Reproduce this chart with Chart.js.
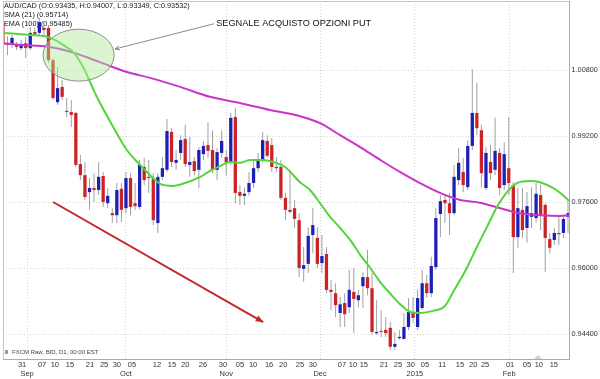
<!DOCTYPE html>
<html>
<head>
<meta charset="utf-8">
<script src="https://cdn.jsdelivr.net/npm/chart.js@4.4.1/dist/chart.umd.min.js"></script>
<style>
  html, body { margin: 0; padding: 0; background: #fff; }
  #wrap { width: 600px; height: 379px; }
</style>
</head>
<body>
<div id="wrap"><canvas id="myChart"></canvas></div>
<script>
// daily candles, AUD/CAD, one entry per trading day
const opens = [
  1.0194, 1.0145, 1.0141, 1.0141, 1.0133, 1.0145, 1.0133, 1.0172, 1.0170, 1.0182,
  1.0182, 1.0104, 1.0002, 1.0039, 0.9981, 0.9978, 0.9976, 0.9852, 0.9825, 0.9784,
  0.9794, 0.9789, 0.9823, 0.9757, 0.9733, 0.9728, 0.9792, 0.9745, 0.9818, 0.9757,
  0.9748, 0.9845, 0.9821, 0.9818, 0.9709, 0.9821, 0.9838, 0.9930, 0.9855, 0.9879,
  0.9913, 0.9850, 0.9859, 0.9838, 0.9876, 0.9898, 0.9886, 0.9838, 0.9879, 0.9869,
  0.9857, 0.9966, 0.9784, 0.9775, 0.9784, 0.9806, 0.9842, 0.9862, 0.9908, 0.9898,
  0.9845, 0.9845, 0.9770, 0.9741, 0.9745, 0.9716, 0.9598, 0.9610, 0.9680, 0.9673,
  0.9612, 0.9634, 0.9547, 0.9539, 0.9491, 0.9515, 0.9505, 0.9542, 0.9522, 0.9556,
  0.9578, 0.9551, 0.9442, 0.9447, 0.9450, 0.9455, 0.9409, 0.9430, 0.9428, 0.9457,
  0.9493, 0.9457, 0.9503, 0.9563, 0.9539, 0.9602, 0.9731, 0.9765, 0.9757, 0.9733,
  0.9813, 0.9833, 0.9796, 0.9896, 0.9976, 0.9934, 0.9794, 0.9857, 0.9838, 0.9879,
  0.9801, 0.9842, 0.9801, 0.9675, 0.9741, 0.9697, 0.9724, 0.9721, 0.9777, 0.9753,
  0.9670, 0.9668, 0.9685, 0.9685, 0.9724
];
const highs = [
  1.0230, 1.0162, 1.0165, 1.0148, 1.0153, 1.0160, 1.0184, 1.0182, 1.0206, 1.0189,
  1.0189, 1.0109, 1.0087, 1.0056, 1.0012, 1.0007, 0.9978, 0.9874, 0.9857, 0.9818,
  0.9830, 0.9857, 0.9833, 0.9794, 0.9745, 0.9806, 0.9806, 0.9833, 0.9830, 0.9806,
  0.9862, 0.9867, 0.9862, 0.9830, 0.9830, 0.9869, 0.9961, 0.9939, 0.9886, 0.9922,
  0.9947, 0.9918, 0.9869, 0.9893, 0.9908, 0.9954, 0.9934, 0.9891, 0.9934, 0.9886,
  0.9976, 0.9988, 0.9801, 0.9796, 0.9833, 0.9862, 0.9879, 0.9930, 0.9922, 0.9915,
  0.9869, 0.9862, 0.9782, 0.9838, 0.9765, 0.9733, 0.9651, 0.9699, 0.9745, 0.9699,
  0.9680, 0.9651, 0.9571, 0.9563, 0.9530, 0.9539, 0.9595, 0.9600, 0.9547, 0.9590,
  0.9644, 0.9588, 0.9522, 0.9498, 0.9481, 0.9469, 0.9445, 0.9450, 0.9491, 0.9527,
  0.9530, 0.9547, 0.9595, 0.9583, 0.9627, 0.9745, 0.9777, 0.9777, 0.9782, 0.9850,
  0.9891, 0.9867, 0.9910, 1.0082, 1.0049, 0.9947, 0.9893, 0.9898, 0.9964, 0.9891,
  0.9905, 0.9966, 0.9808, 0.9794, 0.9794, 0.9784, 0.9796, 0.9806, 0.9801, 0.9757,
  0.9685, 0.9697, 0.9724, 0.9724, 0.9765
];
const lows = [
  1.0116, 1.0116, 1.0133, 1.0128, 1.0128, 1.0109, 1.0128, 1.0162, 1.0165, 1.0165,
  1.0097, 1.0007, 0.9995, 1.0007, 0.9966, 0.9942, 0.9845, 0.9813, 0.9765, 0.9741,
  0.9760, 0.9777, 0.9748, 0.9745, 0.9709, 0.9709, 0.9711, 0.9733, 0.9728, 0.9741,
  0.9741, 0.9801, 0.9782, 0.9704, 0.9685, 0.9813, 0.9833, 0.9845, 0.9838, 0.9862,
  0.9845, 0.9821, 0.9825, 0.9794, 0.9862, 0.9867, 0.9830, 0.9813, 0.9867, 0.9825,
  0.9850, 0.9757, 0.9753, 0.9753, 0.9775, 0.9794, 0.9833, 0.9855, 0.9867, 0.9833,
  0.9833, 0.9765, 0.9716, 0.9733, 0.9697, 0.9578, 0.9566, 0.9588, 0.9636, 0.9600,
  0.9588, 0.9539, 0.9498, 0.9481, 0.9457, 0.9457, 0.9491, 0.9442, 0.9505, 0.9503,
  0.9534, 0.9438, 0.9438, 0.9433, 0.9433, 0.9401, 0.9401, 0.9426, 0.9426, 0.9450,
  0.9467, 0.9450, 0.9498, 0.9527, 0.9530, 0.9595, 0.9675, 0.9709, 0.9680, 0.9728,
  0.9801, 0.9784, 0.9789, 0.9886, 0.9922, 0.9796, 0.9789, 0.9813, 0.9825, 0.9777,
  0.9789, 0.9777, 0.9588, 0.9649, 0.9673, 0.9661, 0.9697, 0.9711, 0.9692, 0.9590,
  0.9636, 0.9656, 0.9656, 0.9673, 0.9685
];
const closes = [
  1.0141, 1.0141, 1.0158, 1.0136, 1.0141, 1.0133, 1.0170, 1.0167, 1.0196, 1.0177,
  1.0104, 1.0012, 1.0036, 1.0015, 0.9978, 0.9971, 0.9850, 0.9825, 0.9772, 0.9794,
  0.9789, 0.9821, 0.9760, 0.9775, 0.9728, 0.9789, 0.9741, 0.9818, 0.9748, 0.9750,
  0.9850, 0.9813, 0.9818, 0.9716, 0.9821, 0.9842, 0.9932, 0.9857, 0.9862, 0.9910,
  0.9852, 0.9857, 0.9835, 0.9886, 0.9896, 0.9884, 0.9838, 0.9881, 0.9908, 0.9857,
  0.9964, 0.9782, 0.9775, 0.9780, 0.9806, 0.9842, 0.9862, 0.9910, 0.9872, 0.9845,
  0.9842, 0.9770, 0.9741, 0.9736, 0.9719, 0.9600, 0.9607, 0.9678, 0.9704, 0.9610,
  0.9629, 0.9547, 0.9542, 0.9510, 0.9512, 0.9488, 0.9547, 0.9525, 0.9534, 0.9578,
  0.9551, 0.9445, 0.9445, 0.9445, 0.9442, 0.9409, 0.9416, 0.9433, 0.9457, 0.9493,
  0.9479, 0.9527, 0.9563, 0.9539, 0.9605, 0.9721, 0.9762, 0.9757, 0.9733, 0.9821,
  0.9855, 0.9801, 0.9896, 0.9976, 0.9939, 0.9830, 0.9879, 0.9830, 0.9884, 0.9794,
  0.9876, 0.9806, 0.9675, 0.9745, 0.9692, 0.9750, 0.9733, 0.9780, 0.9728, 0.9673,
  0.9649, 0.9685, 0.9682, 0.9719, 0.9733
];

// moving averages (candle index, price)
const smaIdx = [0, 6, 9.2, 11.4, 13.6, 15.4, 17.6, 20.6, 24.2, 27.2, 30.1, 32.3, 34.5, 37.3, 40.4, 43.3, 45.4, 47.6, 49.8, 52, 54.2, 57.1, 59.3, 61.9, 65.2, 67.4, 69.6, 71.8, 74, 76.2, 78.4, 80.6, 82.8, 84.9, 87.1, 89.3, 91.5, 94.4, 97, 98.8, 101.8, 104, 106.2, 108.4, 110.6, 112.8, 115.7, 117.9, 120.7, 122.3, 124.2];
const smaVal = [1.0170, 1.0165, 1.0162, 1.0153, 1.0138, 1.0124, 1.0087, 1.0015, 0.9942, 0.9886, 0.9850, 0.9825, 0.9804, 0.9799, 0.9808, 0.9821, 0.9835, 0.9847, 0.9857, 0.9855, 0.9862, 0.9862, 0.9857, 0.9845, 0.9808, 0.9789, 0.9757, 0.9724, 0.9697, 0.9668, 0.9632, 0.9600, 0.9566, 0.9539, 0.9513, 0.9494, 0.9491, 0.9496, 0.9508, 0.9542, 0.9600, 0.9651, 0.9699, 0.9748, 0.9784, 0.9806, 0.9811, 0.9808, 0.9794, 0.9782, 0.9763];
const emaIdx = [0, 3.75, 10.3, 15.8, 21.3, 27.2, 32.3, 38.9, 45.4, 52, 58.6, 65.2, 69.6, 74, 78.4, 82.8, 87.1, 91.5, 95.9, 100.3, 104.7, 109.1, 113.5, 117.9, 122.3, 124.2];
const emaVal = [1.0145, 1.0141, 1.0136, 1.0121, 1.0099, 1.0075, 1.0061, 1.0039, 1.0015, 1.0000, 0.9983, 0.9968, 0.9951, 0.9922, 0.9893, 0.9862, 0.9833, 0.9806, 0.9782, 0.9765, 0.9758, 0.9745, 0.9733, 0.9728, 0.9726, 0.9728];

// axis labels
const dayLabels = ['31', '07', '10', '15', '21', '25', '30', '05', '12', '15', '20', '26', '30', '05', '10', '16', '20', '25', '30', '07', '10', '15', '21', '25', '30', '05', '11', '15', '20', '25', '01', '05', '10', '15'];
const dayTicks = [4.2, 8.6, 11.4, 14.7, 19.1, 22.2, 25.0, 28.3, 33.8, 37.1, 40.0, 43.9, 48.3, 52.0, 54.9, 58.4, 61.5, 65.2, 68.0, 74.4, 76.8, 79.2, 83.6, 86.7, 89.5, 92.6, 96.4, 100.3, 103.2, 105.8, 111.3, 115.0, 117.6, 120.9];
const monthLabels = ['Sep', 'Oct', 'Nov', 'Dec', '2015', 'Feb'];
const monthTicks = [5.3, 27.0, 49.0, 69.6, 90.4, 111.1];
const priceTicks = [1.008, 0.992, 0.976, 0.960, 0.944];

const legendLines = ['AUD/CAD (O:0.93435, H:0.94007, L:0.93349, C:0.93532)', 'SMA (21) (0.95714)', 'EMA (100) (0.95485)'];
const signalText = 'SEGNALE ACQUISTO OPZIONI PUT';
const sourceText = 'FXCM Raw, BID, D1, 00:00 EST';

const FONT = "'Liberation Sans', Arial, sans-serif";
const RED = '#cc2226';
const BLUE = '#1c20b4';

const idx = opens.map((_, i) => i);
const tickVals = dayTicks.concat(monthTicks);
const tickText = dayLabels.concat(monthLabels.map(m => ['', m]));

function arrow(ctx, x1, y1, x2, y2, head, filled) {
  const ang = Math.atan2(y2 - y1, x2 - x1);
  ctx.beginPath();
  ctx.moveTo(x1, y1);
  ctx.lineTo(x2, y2);
  ctx.stroke();
  const a1 = ang + Math.PI - 0.42, a2 = ang + Math.PI + 0.42;
  ctx.beginPath();
  ctx.moveTo(x2 + head * Math.cos(a1), y2 + head * Math.sin(a1));
  ctx.lineTo(x2, y2);
  ctx.lineTo(x2 + head * Math.cos(a2), y2 + head * Math.sin(a2));
  if (filled) { ctx.closePath(); ctx.fill(); } else { ctx.stroke(); }
}

const overlay = {
  id: 'overlay',
  beforeDatasetsDraw(chart) {
    const {ctx, chartArea: a} = chart;
    ctx.save();
    ctx.fillStyle = '#1a1a1a';
    ctx.font = '7.3px ' + FONT;
    ctx.textBaseline = 'middle';
    legendLines.forEach((t, k) => ctx.fillText(t, a.left + 1, a.top + 4.5 + k * 9));
    ctx.restore();
  },
  afterDatasetsDraw(chart) {
    const {ctx, chartArea: a, scales: {x, y}} = chart;
    ctx.save();
    // frame
    ctx.strokeStyle = '#c4c4c4';
    ctx.lineWidth = 1;
    ctx.beginPath();
    ctx.moveTo(a.left + 0.5, a.bottom);
    ctx.lineTo(a.left + 0.5, a.top + 0.5);
    ctx.lineTo(a.right, a.top + 0.5);
    ctx.stroke();

    // signal ellipse
    const cx = x.getPixelForValue(16.6), cy = y.getPixelForValue(1.0116);
    const rx = x.getPixelForValue(24.4) - cx, ry = y.getPixelForValue(1.0053) - cy;
    ctx.beginPath();
    ctx.ellipse(cx, cy, rx, ry, 0, 0, Math.PI * 2);
    ctx.fillStyle = 'rgba(175, 232, 150, 0.45)';
    ctx.fill();
    ctx.strokeStyle = '#8c8c8c';
    ctx.stroke();

    // leader line to the ellipse
    ctx.strokeStyle = '#8a8a8a';
    ctx.lineWidth = 1;
    arrow(ctx, x.getPixelForValue(46.3), y.getPixelForValue(1.0192),
      x.getPixelForValue(24.6), y.getPixelForValue(1.0131), 5, false);

    ctx.fillStyle = '#111';
    ctx.font = '9.2px ' + FONT;
    ctx.textBaseline = 'middle';
    ctx.fillText(signalText, x.getPixelForValue(46.8), y.getPixelForValue(1.0192));

    // trend arrow
    ctx.strokeStyle = '#c0282d';
    ctx.fillStyle = '#c0282d';
    ctx.lineWidth = 2;
    arrow(ctx, x.getPixelForValue(11.0), y.getPixelForValue(0.9760),
      x.getPixelForValue(57.1), y.getPixelForValue(0.9469), 8, true);

    // source note
    ctx.fillStyle = '#9a9a9a';
    ctx.fillRect(a.left + 2, a.bottom - 9, 3, 4);
    ctx.fillStyle = '#444';
    ctx.font = '6px ' + FONT;
    ctx.fillText(sourceText, a.left + 9, a.bottom - 6.5);

    // small marker on the time axis
    const mx = x.getPixelForValue(117.4);
    ctx.fillStyle = '#d0d0d0';
    ctx.beginPath();
    ctx.moveTo(mx - 4, a.bottom);
    ctx.lineTo(mx, a.bottom - 4);
    ctx.lineTo(mx + 4, a.bottom);
    ctx.closePath();
    ctx.fill();
    ctx.restore();
  }
};

const data = {
  datasets: [
    {
      type: 'line',
      label: 'SMA (21)',
      data: smaIdx.map((v, k) => ({x: v, y: smaVal[k]})),
      borderColor: '#52d63c',
      borderWidth: 2,
      pointRadius: 0,
      cubicInterpolationMode: 'monotone',
      order: 0
    },
    {
      type: 'line',
      label: 'EMA (100)',
      data: emaIdx.map((v, k) => ({x: v, y: emaVal[k]})),
      borderColor: '#c935c9',
      borderWidth: 2,
      pointRadius: 0,
      cubicInterpolationMode: 'monotone',
      order: 0
    },
    {
      type: 'bar',
      label: 'body',
      data: idx.map(i => ({x: i, y: [opens[i], closes[i]]})),
      backgroundColor: idx.map(i => closes[i] > opens[i] ? BLUE : RED),
      grouped: false,
      maxBarThickness: 3.6,
      minBarLength: 1,
      order: 1
    },
    {
      type: 'bar',
      label: 'wick',
      data: idx.map(i => ({x: i, y: [lows[i], highs[i]]})),
      backgroundColor: '#a0a0a0',
      grouped: false,
      maxBarThickness: 1,
      order: 2
    }
  ]
};

const config = {
  type: 'bar',
  data: data,
  options: {
    responsive: true,
    maintainAspectRatio: false,
    animation: false,
    events: [],
    layout: { padding: { left: 3, top: 1, right: 0, bottom: 0 } },
    scales: {
      x: {
        type: 'linear',
        min: 0.02,
        max: 124.22,
        offset: false,
        afterFit: (scale) => {
          scale.height = 20;
          scale.paddingLeft = 0;
          scale.paddingRight = 0;
        },
        afterBuildTicks: (scale) => { scale.ticks = tickVals.map(v => ({value: v})); },
        grid: {
          offset: false,
          drawTicks: false,
          color: (c) => c.index >= dayTicks.length ? '#d6d6d6' : 'rgba(0,0,0,0)'
        },
        border: { color: '#ababab', dash: [1, 2] },
        ticks: {
          autoSkip: false,
          maxRotation: 0,
          minRotation: 0,
          padding: 1,
          color: '#333',
          font: { family: FONT, size: 7.5 },
          callback: (v, i) => tickText[i]
        }
      },
      y: {
        position: 'right',
        min: 0.93794,
        max: 1.02473,
        beginAtZero: false,
        afterFit: (scale) => {
          scale.width = 31;
          scale.paddingTop = 0;
          scale.paddingBottom = 0;
        },
        afterBuildTicks: (scale) => { scale.ticks = priceTicks.map(v => ({value: v})); },
        grid: { drawTicks: false, color: '#d6d6d6' },
        border: { color: '#ababab', dash: [1, 2] },
        ticks: {
          padding: 2.5,
          color: '#333',
          font: { family: FONT, size: 7.3 },
          callback: (v) => Number(v).toFixed(5)
        }
      }
    },
    plugins: {
      legend: { display: false },
      tooltip: { enabled: false }
    }
  },
  plugins: [overlay]
};

const myChart = new Chart(document.getElementById('myChart'), config);
</script>
</body>
</html>
